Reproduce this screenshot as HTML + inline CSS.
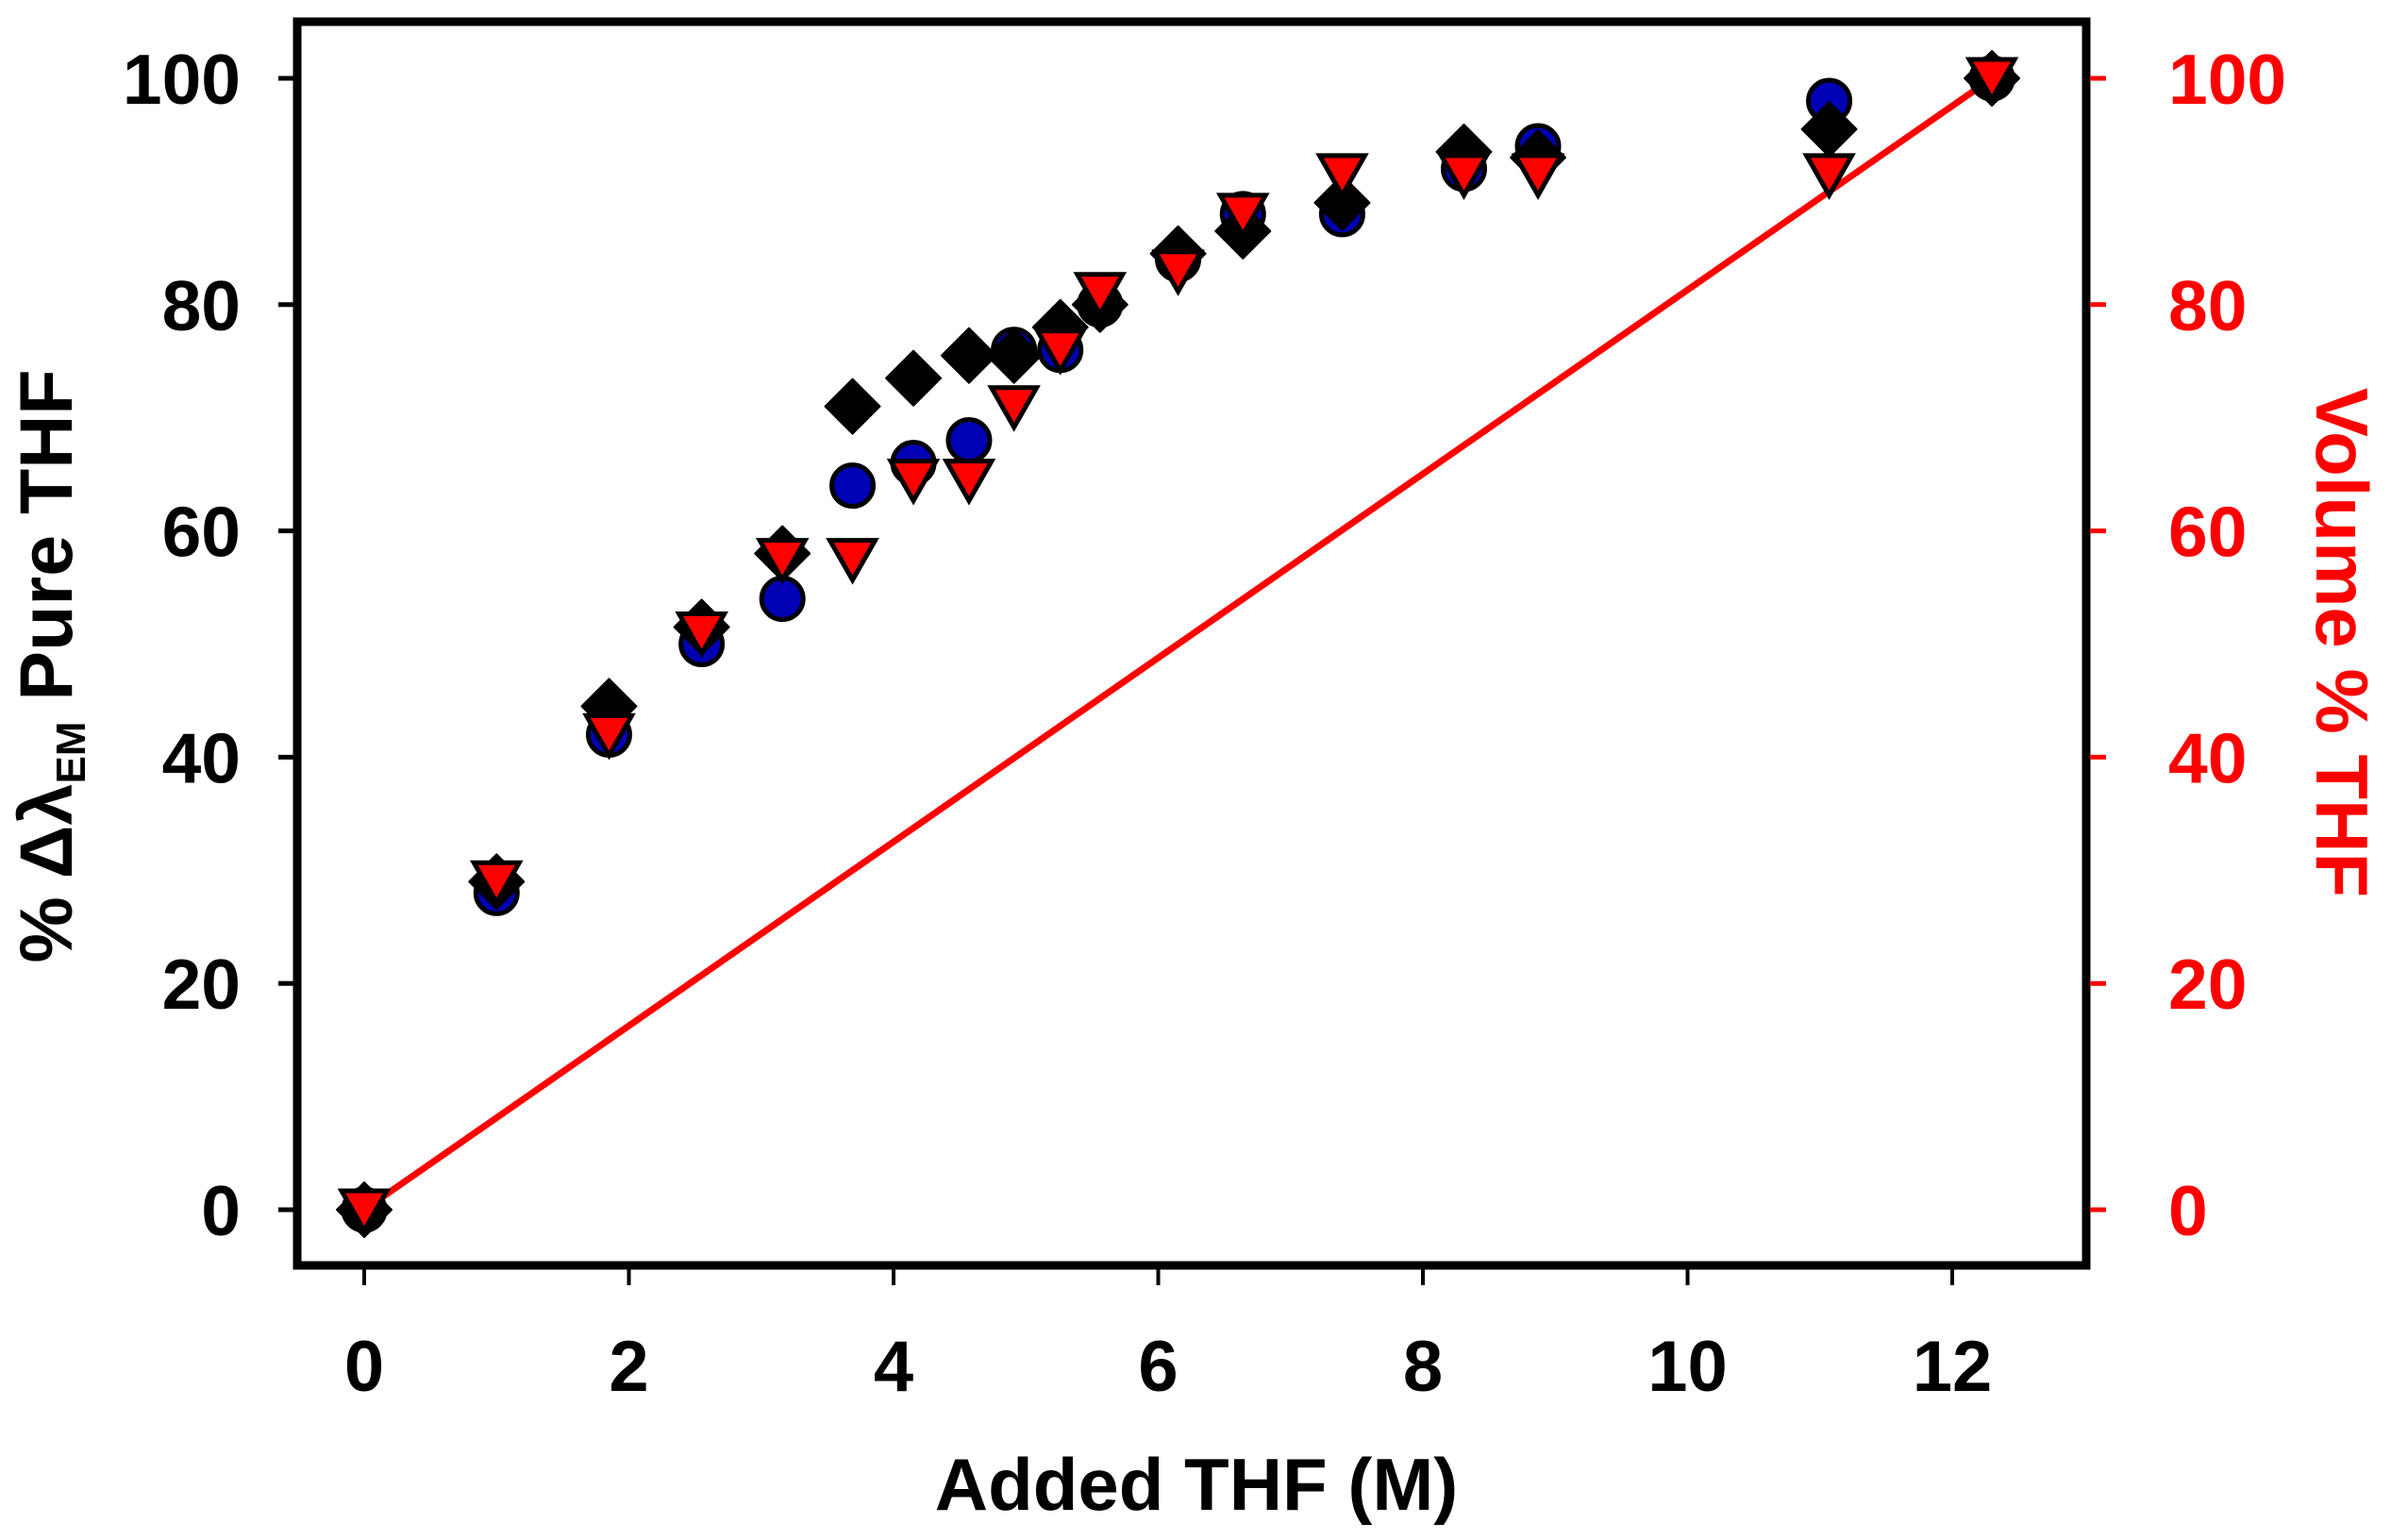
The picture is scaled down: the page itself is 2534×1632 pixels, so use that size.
<!DOCTYPE html>
<html><head><meta charset="utf-8"><style>
html,body{margin:0;padding:0;background:#fff;}
svg{display:block;}
text{font-family:"Liberation Sans",Arial,sans-serif;font-weight:bold;}
</style></head><body>
<svg id="chart" width="2534" height="1632" viewBox="0 0 2534 1632" xmlns="http://www.w3.org/2000/svg">
<g id="plot"></g>
</svg>
<script>
const xTicks = [0, 2, 4, 6, 8, 10, 12];
const yTicks = [0, 20, 40, 60, 80, 100];
const xVals = [0, 1.00, 1.85, 2.55, 3.16, 3.69, 4.15, 4.57, 4.91, 5.26, 5.56, 6.15, 6.64, 7.39, 8.31, 8.87, 11.07, 12.30];
const circleVals = [0, 28, 42, 50, 54, 64, 66, 68, 76, 76, 80, 84, 88, 88, 92, 94, 98, 100];
const diamondVals = [0, 29, 44.5, 51.5, 58, 71, 73.5, 75.5, 75.5, 78, 80, 84.5, 86.5, 89, 93.5, 93, 95.5, 100];
const triangleVals = [0, 29, 42, 51, 57.5, 57.5, 64.5, 64.5, 71, 76, 81, 83, 88, 91.5, 91.5, 91.5, 91.5, 100];
const lineX = [0, 12.30];
const lineY = [0, 100];

const NS = "http://www.w3.org/2000/svg";
const svg = document.getElementById('chart');
const plot = document.getElementById('plot');
const L = 315, R = 2211, T = 23, B = 1341;
function sx(v){ return 386 + v * 140.25; }
function sy(v){ return 1282 - v * 11.99; }
function mk(tag, attrs, parent){
  const e = document.createElementNS(NS, tag);
  for (const k in attrs) e.setAttribute(k, attrs[k]);
  (parent || svg).appendChild(e);
  return e;
}

const ln = mk('line', {x1: sx(lineX[0]), y1: sy(lineY[0]), x2: sx(lineX[1]), y2: sy(lineY[1]), stroke: '#ff0000', 'stroke-width': 7}, plot);



xVals.forEach((x, i) => {
  const c = mk('circle', {cx: sx(x), cy: sy(circleVals[i]), r: 22, fill: '#0000b4', stroke: '#000', 'stroke-width': 5}, plot);
  
  
});
xVals.forEach((x, i) => {
  const cx = sx(x), cy = sy(diamondVals[i]), h = 29;
  const d = mk('polygon', {points: `${cx},${cy-h} ${cx+h},${cy} ${cx},${cy+h} ${cx-h},${cy}`, fill: '#000', stroke: '#000', 'stroke-width': 2, 'stroke-linejoin': 'round'}, plot);
  
  
});
xVals.forEach((x, i) => {
  const cx = sx(x), cy = sy(triangleVals[i]);
  const t = mk('polygon', {points: `${cx-24},${cy-20} ${cx+24},${cy-20} ${cx},${cy+22}`, fill: '#ff0000', stroke: '#000', 'stroke-width': 5, 'stroke-linejoin': 'miter'}, plot);
  
  
});

const fr = mk('rect', {x: L, y: T, width: R - L, height: B - T, fill: 'none', stroke: '#000', 'stroke-width': 9});



xTicks.forEach(v => {
  const t = mk('line', {x1: sx(v), y1: B + 4, x2: sx(v), y2: 1362, stroke: '#000', 'stroke-width': 4});
  
  
  const lb = mk('text', {x: sx(v), y: 1474, 'text-anchor': 'middle', 'font-size': 76, fill: '#000'});
  lb.textContent = v;
  
  
});
yTicks.forEach(v => {
  const t = mk('line', {x1: 295, y1: sy(v), x2: L - 4, y2: sy(v), stroke: '#000', 'stroke-width': 5});
  
  
  const lb = mk('text', {x: 255, y: sy(v) + 27, 'text-anchor': 'end', 'font-size': 75, fill: '#000'});
  lb.textContent = v;
  
  
  const tr = mk('line', {x1: R + 4, y1: sy(v), x2: 2232, y2: sy(v), stroke: '#ff0000', 'stroke-width': 5});
  
  
  const lr = mk('text', {x: 2298, y: sy(v) + 27, 'text-anchor': 'start', 'font-size': 75, fill: '#ff0000'});
  lr.textContent = v;
  
  
});
</script>
<svg style="position:absolute;left:0;top:0" width="2534" height="1632" viewBox="0 0 2534 1632" xmlns="http://www.w3.org/2000/svg">
<text x="1268" y="1600" text-anchor="middle" font-size="78" fill="#000" style="font-family:'Liberation Sans',Arial,sans-serif;font-weight:bold">Added THF (M)</text>
<text transform="translate(76,706) rotate(-90)" text-anchor="middle" font-size="79" fill="#000" style="font-family:'Liberation Sans','DejaVu Sans',sans-serif;font-weight:bold">% Δλ<tspan font-size="44" dy="14">EM</tspan><tspan dy="-14"> Pure THF</tspan></text>
<text transform="translate(2455,681) rotate(90)" text-anchor="middle" font-size="78" fill="#ff0000" style="font-family:'Liberation Sans',Arial,sans-serif;font-weight:bold">Volume % THF</text>
</svg>
</body></html>
